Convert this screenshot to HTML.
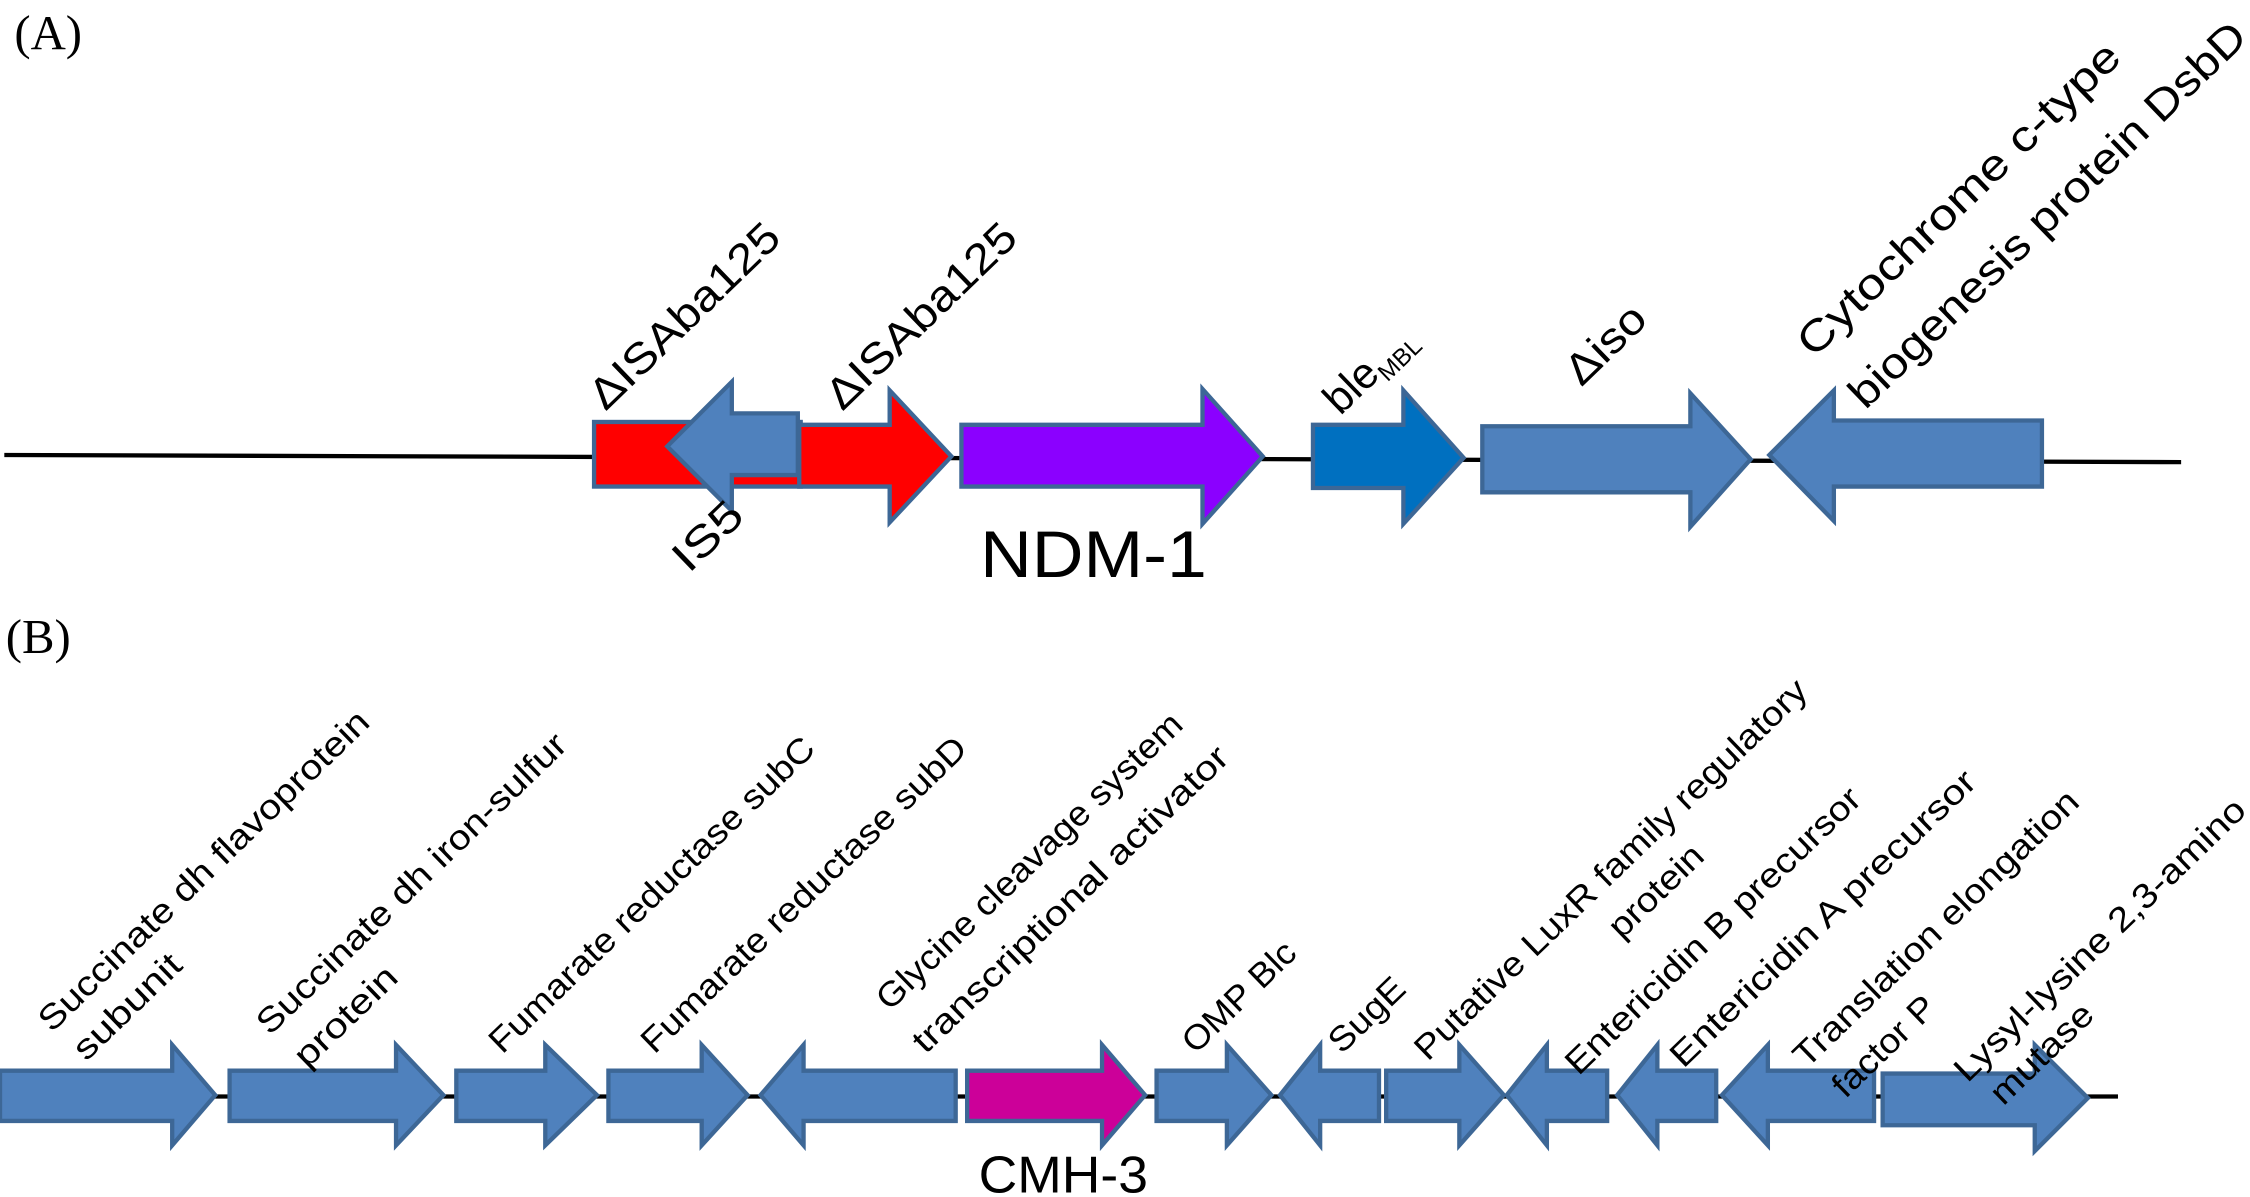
<!DOCTYPE html>
<html><head><meta charset="utf-8"><style>
html,body{margin:0;padding:0;background:#fff;}
svg{display:block;}
text{font-family:"Liberation Sans","DejaVu Sans",sans-serif;fill:#000;}
.lab{font-size:24px;}
.labA{font-size:30px;}
</style></head><body>
<svg width="2250" height="1197" viewBox="0 0 1568 834" preserveAspectRatio="none" xmlns="http://www.w3.org/2000/svg">
<rect width="1568" height="834" fill="#fff"/>
<text x="10" y="34" style="font-family:'Liberation Serif',serif;font-size:34px">(A)</text>
<text x="4" y="455" style="font-family:'Liberation Serif',serif;font-size:34px">(B)</text>

<line x1="3" y1="317" x2="1520" y2="322" stroke="#000" stroke-width="3"/>
<g stroke="#3d6796" stroke-width="3" stroke-linejoin="miter">
<rect x="414" y="294" width="144" height="45" fill="#ff0000"/>
<polygon points="556,288 510,288 510,266 465,311 510,356 510,331 556,331" fill="#4f81bd"/>
<polygon points="557,296 620,296 620,272 663,318 620,364 620,339 557,339" fill="#ff0000"/>
<polygon points="670,296 838,296 838,271 880,318 838,365 838,339 670,339" fill="#8b00ff"/>
<polygon points="915,296 978,296 978,272 1020,319 978,365 978,340 915,340" fill="#0070c0"/>
<polygon points="1033,297 1178,297 1178,274 1220,320 1178,367 1178,343 1033,343" fill="#4f81bd"/>
<polygon points="1423,293 1278,293 1278,272 1233,317 1278,363 1278,339 1423,339" fill="#4f81bd"/>
</g>

<g class="labA">
<text transform="translate(422,287) rotate(-44)" textLength="172" lengthAdjust="spacingAndGlyphs">ΔISAba125</text>
<text transform="translate(587,287) rotate(-44)" textLength="172" lengthAdjust="spacingAndGlyphs">ΔISAba125</text>
<text transform="translate(934,290) rotate(-44)">ble<tspan font-size="17" dy="6">MBL</tspan></text>
<text transform="translate(1102,270) rotate(-44)" textLength="66" lengthAdjust="spacingAndGlyphs">Δiso</text>
<text transform="translate(1264,250) rotate(-44)" textLength="300" lengthAdjust="spacingAndGlyphs">Cytochrome c-type</text>
<text transform="translate(1300,286) rotate(-44)" textLength="372" lengthAdjust="spacingAndGlyphs">biogenesis protein DsbD</text>
<text transform="translate(480,400) rotate(-44)" textLength="56" lengthAdjust="spacingAndGlyphs">IS5</text>
</g>
<text x="683" y="402" style="font-size:46px" textLength="158" lengthAdjust="spacingAndGlyphs">NDM-1</text>

<line x1="0" y1="764" x2="1476" y2="764" stroke="#000" stroke-width="3"/>
<g stroke="#3d6796" stroke-width="3">
<polygon points="0,746 120,746 120,728 150,763 120,798 120,781 0,781" fill="#4f81bd"/>
<polygon points="160,746 276,746 276,728 309,763 276,798 276,781 160,781" fill="#4f81bd"/>
<polygon points="318,746 380,746 380,728 416,763 380,798 380,781 318,781" fill="#4f81bd"/>
<polygon points="424,746 489,746 489,728 521,763 489,798 489,781 424,781" fill="#4f81bd"/>
<polygon points="666,746 560,746 560,728 530,763 560,798 560,781 666,781" fill="#4f81bd"/>
<polygon points="674,746 768,746 768,728 798,763 768,798 768,781 674,781" fill="#cc0099"/>
<polygon points="806,746 855,746 855,728 886,763 855,798 855,781 806,781" fill="#4f81bd"/>
<polygon points="961,746 920,746 920,728 892,763 920,798 920,781 961,781" fill="#4f81bd"/>
<polygon points="966,746 1017,746 1017,728 1048,763 1017,798 1017,781 966,781" fill="#4f81bd"/>
<polygon points="1120,746 1078,746 1078,728 1050,763 1078,798 1078,781 1120,781" fill="#4f81bd"/>
<polygon points="1196,746 1155,746 1155,728 1127,763 1155,798 1155,781 1196,781" fill="#4f81bd"/>
<polygon points="1306,746 1232,746 1232,728 1200,763 1232,798 1232,781 1306,781" fill="#4f81bd"/>
<polygon points="1312,748 1418,748 1418,728 1455,765 1418,802 1418,784 1312,784" fill="#4f81bd"/>
</g>

<g class="lab">
<text transform="translate(36,720) rotate(-44)" textLength="310" lengthAdjust="spacingAndGlyphs">Succinate dh flavoprotein</text>
<text transform="translate(60,740) rotate(-44)" textLength="95" lengthAdjust="spacingAndGlyphs">subunit</text>
<text transform="translate(188,722) rotate(-44)" textLength="290" lengthAdjust="spacingAndGlyphs">Succinate dh iron-sulfur</text>
<text transform="translate(214,745) rotate(-44)" textLength="90" lengthAdjust="spacingAndGlyphs">protein</text>
<text transform="translate(350,735) rotate(-44)" textLength="305" lengthAdjust="spacingAndGlyphs">Fumarate reductase subC</text>
<text transform="translate(456,735) rotate(-44)" textLength="305" lengthAdjust="spacingAndGlyphs">Fumarate reductase subD</text>
<text transform="translate(620,705) rotate(-44)" textLength="286" lengthAdjust="spacingAndGlyphs">Glycine cleavage system</text>
<text transform="translate(645,735) rotate(-44)" textLength="296" lengthAdjust="spacingAndGlyphs">transcriptional activator</text>
<text transform="translate(833,735) rotate(-44)" textLength="100" lengthAdjust="spacingAndGlyphs">OMP Blc</text>
<text transform="translate(935,735) rotate(-44)" textLength="64" lengthAdjust="spacingAndGlyphs">SugE</text>
<text transform="translate(995,740) rotate(-44)" textLength="370" lengthAdjust="spacingAndGlyphs">Putative LuxR family regulatory</text>
<text transform="translate(1130,655) rotate(-44)" textLength="82" lengthAdjust="spacingAndGlyphs">protein</text>
<text transform="translate(1100,750) rotate(-44)" textLength="276" lengthAdjust="spacingAndGlyphs">Entericidin B precursor</text>
<text transform="translate(1173,745) rotate(-44)" textLength="286" lengthAdjust="spacingAndGlyphs">Entericidin A precursor</text>
<text transform="translate(1259,745) rotate(-44)" textLength="266" lengthAdjust="spacingAndGlyphs">Translation elongation</text>
<text transform="translate(1286,766) rotate(-44)" textLength="90" lengthAdjust="spacingAndGlyphs">factor P</text>
<text transform="translate(1371,755) rotate(-44)" textLength="272" lengthAdjust="spacingAndGlyphs">Lysyl-lysine 2,3-amino</text>
<text transform="translate(1396,771) rotate(-44)" textLength="90" lengthAdjust="spacingAndGlyphs">mutase</text>
</g>
<text x="682" y="831" style="font-size:36px" textLength="118" lengthAdjust="spacingAndGlyphs">CMH-3</text>
</svg>
</body></html>
